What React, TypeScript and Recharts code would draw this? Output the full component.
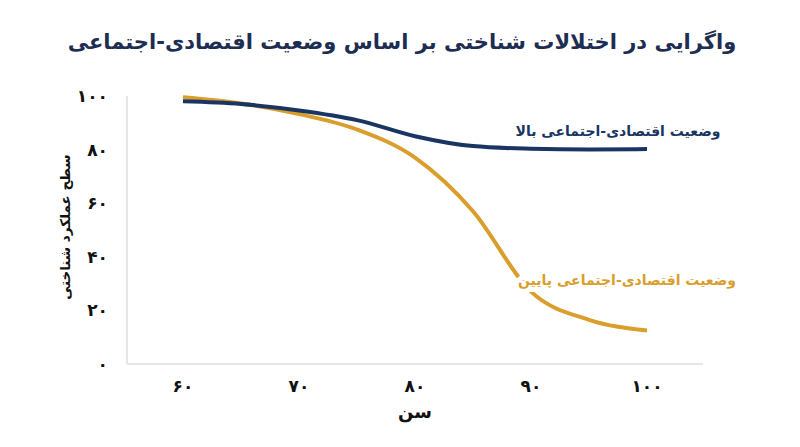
import React from 'react';
import { LineChart, Line, XAxis, YAxis } from 'recharts';

const ages = [60, 65, 70, 75, 80, 85, 90, 95, 100];
const highSES = [98, 97, 94.6, 91, 85, 81.3, 80.3, 80, 80.2];
const lowSES = [99.5, 97.2, 93.3, 87.5, 77, 57, 27, 16.5, 12.5];
const xTicks = [60, 70, 80, 90, 100];
const yTicks = [0, 20, 40, 60, 80, 100];

const title = 'واگرایی در اختلالات شناختی بر اساس وضعیت اقتصادی-اجتماعی';
const highLabel = 'وضعیت اقتصادی-اجتماعی بالا';
const lowLabel = 'وضعیت اقتصادی-اجتماعی پایین';
const yLabel = 'سطح عملکرد شناختی';
const xLabel = 'سن';

const NAVY = '#1b3563';
const GOLD = '#d99e2b';
const FONT = '"DejaVu Sans", "Noto Sans", sans-serif';

const fa = (v: number | string) =>
  String(v).replace(/\d/g, (d) => '۰۱۲۳۴۵۶۷۸۹'[Number(d)]);

const data = ages.map((age, i) => ({ age, high: highSES[i], low: lowSES[i] }));

export default function App() {
  return (
    <div style={{ position: 'absolute', left: 0, top: 0, width: 800, height: 447, background: '#fff', fontFamily: FONT }}>
      <LineChart
        width={800}
        height={447}
        data={data}
        margin={{ top: 96, right: 97, left: 0, bottom: 0 }}
      >
        <XAxis
          dataKey="age"
          type="number"
          domain={[60, 100]}
          ticks={xTicks}
          padding={{ left: 56, right: 56 }}
          height={83}
          tickLine={false}
          tickSize={0}
          tickMargin={16}
          axisLine={{ stroke: '#e6e6e6', strokeWidth: 2 }}
          tickFormatter={fa}
          tick={{ fill: '#111', fontSize: 17, fontWeight: 700, fontFamily: FONT }}
        />
        <YAxis
          type="number"
          domain={[0, 100]}
          ticks={yTicks}
          width={127}
          tickLine={false}
          tickSize={0}
          tickMargin={19}
          axisLine={{ stroke: '#e6e6e6', strokeWidth: 2 }}
          tickFormatter={fa}
          tick={{ fill: '#111', fontSize: 17, fontWeight: 700, fontFamily: FONT }}
        />
        <Line
          type="monotone"
          dataKey="low"
          stroke={GOLD}
          strokeWidth={4}
          dot={false}
          activeDot={false}
          isAnimationActive={false}
        />
        <Line
          type="monotone"
          dataKey="high"
          stroke={NAVY}
          strokeWidth={4}
          dot={false}
          activeDot={false}
          isAnimationActive={false}
        />
      </LineChart>
      <svg
        width={800}
        height={447}
        style={{ position: 'absolute', left: 0, top: 0, pointerEvents: 'none' }}
        fontFamily={FONT}
      >
        <text x={402} y={42} textAnchor="middle" dominantBaseline="central" direction="rtl"
          fontSize={21} fontWeight={700} fill="#1e2d52">{title}</text>
        <text x={618} y={131} textAnchor="middle" dominantBaseline="central" direction="rtl"
          fontSize={14} fontWeight={700} fill={NAVY}>{highLabel}</text>
        <text x={627} y={280} textAnchor="middle" dominantBaseline="central" direction="rtl"
          fontSize={14} fontWeight={700} fill={GOLD}
          stroke="#fff" strokeWidth={10} paintOrder="stroke" strokeLinejoin="round">{lowLabel}</text>
        <text x={65} y={227} textAnchor="middle" dominantBaseline="central" direction="rtl"
          transform="rotate(-90 65 227)" fontSize={13.5} fontWeight={700} fill="#111">{yLabel}</text>
        <text x={415} y={411} textAnchor="middle" dominantBaseline="central" direction="rtl"
          fontSize={18} fontWeight={700} fill="#111">{xLabel}</text>
      </svg>
    </div>
  );
}
